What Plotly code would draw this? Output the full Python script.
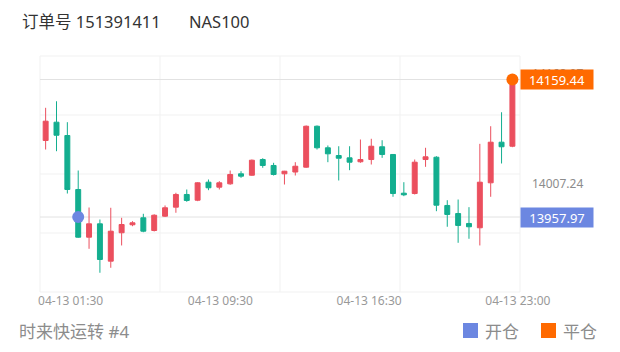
import plotly.graph_objects as go

# ---- data ----
opens  = [14070.1, 14096.9, 14077.4, 13998.3, 13928.4, 13948.0, 13893.3, 13934.9, 13946.6, 13956.8,
          13938.2, 13959.2, 13972.4, 13991.0, 13982.6, 14009.0, 14001.7, 14006.6, 14021.3, 14019.2,
          14042.2, 14033.5, 14021.3, 14023.9, 14031.0, 14091.0, 14059.4, 14048.1, 14044.7, 14038.9,
          14042.2, 14060.9, 14049.6, 13992.9, 13992.4, 14042.2, 14045.6, 13974.9, 13963.1, 13948.5,
          13942.2, 14008.1, 14067.6, 14061.7]
highs  = [14118.0, 14127.6, 14096.9, 14026.1, 13971.9, 13954.3, 13971.5, 13956.8, 13951.9, 13962.7,
          13962.0, 13974.9, 13993.5, 13998.3, 14009.0, 14012.9, 14010.5, 14026.1, 14025.1, 14042.2,
          14044.1, 14037.4, 14025.6, 14038.3, 14092.1, 14092.1, 14062.8, 14061.7, 14061.7, 14071.5,
          14072.6, 14070.5, 14050.0, 14009.0, 14042.2, 14059.4, 14047.1, 13982.6, 13983.6, 13972.4,
          14065.2, 14091.0, 14111.5, 14159.44]
lows   = [14056.9, 14054.4, 13992.4, 13927.5, 13911.4, 13876.3, 13883.6, 13916.3, 13944.5, 13935.7,
          13936.8, 13958.0, 13964.2, 13980.3, 13981.2, 13997.3, 13998.3, 14005.2, 14015.4, 14018.4,
          14030.1, 14018.8, 14005.6, 14018.8, 14030.1, 14056.9, 14038.3, 14011.5, 14026.6, 14037.4,
          14034.9, 14044.7, 13987.6, 13988.5, 13991.0, 14031.5, 13966.5, 13943.7, 13920.2, 13926.1,
          13916.3, 13987.6, 14036.4, 14060.3]
closes = [14098.4, 14077.8, 13998.3, 13928.4, 13948.0, 13895.7, 13937.2, 13947.0, 13949.5, 13937.2,
          13960.6, 13971.5, 13991.0, 13982.2, 14008.1, 14000.8, 14008.1, 14020.3, 14017.8, 14041.2,
          14033.5, 14020.3, 14025.1, 14032.4, 14091.0, 14059.4, 14050.6, 14044.1, 14038.3, 14042.2,
          14061.7, 14049.6, 13992.4, 13990.5, 14038.3, 14046.2, 13975.3, 13961.7, 13945.6, 13943.7,
          14009.0, 14067.6, 14060.9, 14156.0]
candle_index = list(range(len(opens)))

tick_labels = ["04-13 01:30", "04-13 09:30", "04-13 16:30", "04-13 23:00"]
tick_positions = [2.3, 16.1, 29.8, 43.5]

open_price = 13957.97
open_index = 3
close_price = 14159.44
close_index = 43
axis_labels = ["14168.97", "14007.24"]
axis_label_values = [14168.97, 14007.24]

order_no = "订单号 151391411"
symbol = "NAS100"
strategy = "时来快运转 #4"
legend_names = ["开仓", "平仓"]

# ---- styles ----
RED = "#EB4F5E"
GREEN = "#13AE8F"
BLUE = "#6C87E1"
ORANGE = "#FF6A00"
GRID = "#F1F1F1"
PRICE_LINE = "#E2E2E2"
GREY = "#8C8C8C"
FONT = "Noto Sans, Noto Sans CJK SC, sans-serif"

W, H = 620, 352
L, R, T, B = 40, 100, 56, 60
PW, PH = W - L - R, H - T - B
YMIN, YMAX = 13848.1, 14193.9
XMIN, XMAX = -0.52, 43.70


def px(x):
    return (x - L) / PW


def py(y):
    return (H - B - y) / PH


fig = go.Figure()

fig.add_trace(go.Candlestick(
    x=candle_index, open=opens, high=highs, low=lows, close=closes,
    increasing=dict(line=dict(color=RED, width=1), fillcolor=RED),
    decreasing=dict(line=dict(color=GREEN, width=1), fillcolor=GREEN),
    whiskerwidth=0, hoverinfo="skip", showlegend=False,
))

fig.add_trace(go.Scatter(
    x=[open_index], y=[open_price], mode="markers",
    marker=dict(size=12, color=BLUE), hoverinfo="skip", showlegend=False, cliponaxis=False,
))
fig.add_trace(go.Scatter(
    x=[close_index], y=[close_price], mode="markers",
    marker=dict(size=12, color=ORANGE), hoverinfo="skip", showlegend=False, cliponaxis=False,
))

shapes = []
# grid
for i in range(5):
    shapes.append(dict(type="line", xref="paper", yref="paper", x0=i / 4, x1=i / 4, y0=0, y1=1,
                       line=dict(color=GRID, width=1), layer="below"))
    shapes.append(dict(type="line", xref="paper", yref="paper", x0=0, x1=1, y0=i / 4, y1=i / 4,
                       line=dict(color=GRID, width=1), layer="below"))
# price lines
for v in (open_price, close_price):
    shapes.append(dict(type="line", xref="paper", yref="y", x0=0, x1=1, y0=v, y1=v,
                       line=dict(color=PRICE_LINE, width=1), layer="below"))
# legend squares
for x0, c in ((463, BLUE), (541, ORANGE)):
    shapes.append(dict(type="rect", xref="paper", yref="paper",
                       x0=px(x0), x1=px(x0 + 15), y0=py(338), y1=py(323),
                       fillcolor=c, line=dict(width=0)))

annotations = []
for t, v in zip(axis_labels, axis_label_values):
    annotations.append(dict(x=1, xref="paper", y=v, yref="y", text=t, showarrow=False,
                            xanchor="left", xshift=10, font=dict(size=12, color=GREY, family=FONT)))
for v, c in ((close_price, ORANGE), (open_price, BLUE)):
    annotations.append(dict(x=1, xref="paper", y=v, yref="y", text=f"{v:.2f}", showarrow=False,
                            xanchor="left", yanchor="middle", width=72, height=19, borderpad=0,
                            bgcolor=c, align="center",
                            font=dict(size=13, color="white", family=FONT)))
annotations += [
    dict(x=px(20), y=py(22), xref="paper", yref="paper", text=order_no, showarrow=False,
         xanchor="left", yanchor="middle", font=dict(size=16.5, color="#333333", family=FONT)),
    dict(x=px(187), y=py(22), xref="paper", yref="paper", text=symbol, showarrow=False,
         xanchor="left", yanchor="middle", font=dict(size=16.5, color="#333333", family=FONT)),
    dict(x=px(17), y=py(331), xref="paper", yref="paper", text=strategy, showarrow=False,
         xanchor="left", yanchor="middle", font=dict(size=17, color=GREY, family=FONT)),
    dict(x=px(483), y=py(331), xref="paper", yref="paper", text=legend_names[0], showarrow=False,
         xanchor="left", yanchor="middle", font=dict(size=17, color=GREY, family=FONT)),
    dict(x=px(561), y=py(331), xref="paper", yref="paper", text=legend_names[1], showarrow=False,
         xanchor="left", yanchor="middle", font=dict(size=17, color=GREY, family=FONT)),
]

fig.update_layout(
    width=W, height=H, margin=dict(l=L, r=R, t=T, b=B),
    paper_bgcolor="white", plot_bgcolor="white",
    font=dict(family=FONT, color=GREY),
    shapes=shapes, annotations=annotations, showlegend=False,
    boxgap=0.35, hovermode=False,
    xaxis=dict(range=[XMIN, XMAX], showgrid=False, zeroline=False, showline=False,
               tickvals=tick_positions, ticktext=tick_labels, ticks="",
               tickfont=dict(size=12, color="#999999", family=FONT),
               rangeslider=dict(visible=False), fixedrange=True),
    yaxis=dict(range=[YMIN, YMAX], showgrid=False, zeroline=False, showline=False,
               showticklabels=False, fixedrange=True),
)

fig.write_html("out.html")
